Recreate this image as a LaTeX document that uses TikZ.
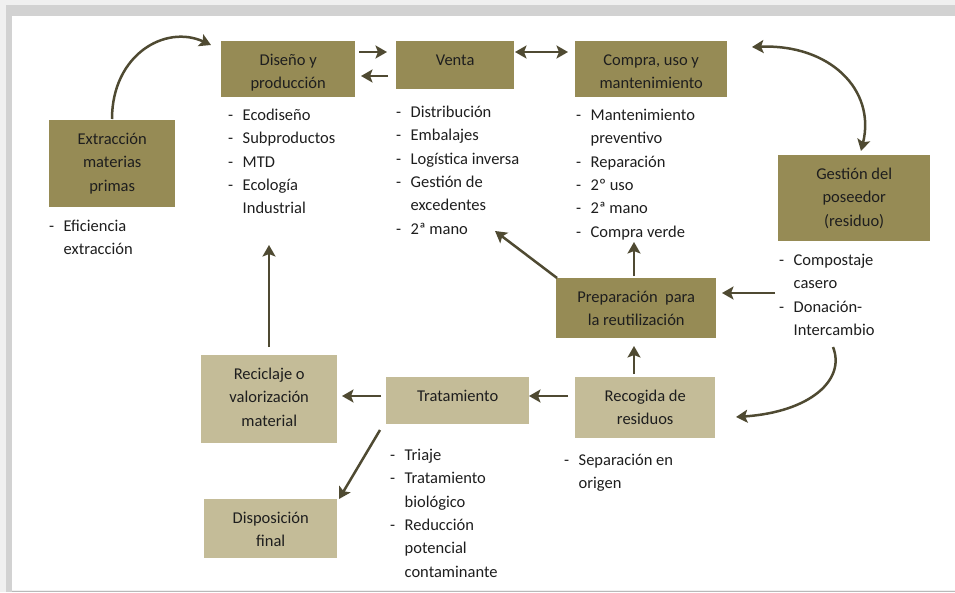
\documentclass[tikz,border=0pt]{standalone}
\usepackage{fontspec}
\setmainfont{Carlito}
\usetikzlibrary{arrows.meta,calc}
\definecolor{darkbox}{HTML}{968B55}
\definecolor{lightbox}{HTML}{C4BC98}
\definecolor{arrowc}{HTML}{4F4A32}
\definecolor{txt}{HTML}{1E1E1E}
\newcommand{\bx}[1]{\begin{tabular}{@{}c@{}}#1\end{tabular}}
\newcommand{\lst}[1]{\begin{tabular}{@{}l@{}}#1\end{tabular}}
\newcommand{\li}[1]{\makebox[14.5pt][l]{-}#1}
\newcommand{\lc}[1]{\hspace*{14.5pt}#1}
\tikzset{
  dbox/.style={fill=darkbox, draw=none, inner sep=0pt, anchor=north west},
  lbox/.style={fill=lightbox, draw=none, inner sep=0pt, anchor=north west},
  btxt/.style={inner sep=0pt, anchor=north, text=txt, font=\fontsize{16.5}{23.3}\selectfont},
  ltxt/.style={inner sep=0pt, anchor=north west, text=txt, font=\fontsize{16.5}{23.3}\selectfont},
  arr/.style={draw=arrowc, line width=2.5pt, -{Stealth[length=11.5pt,width=13pt,inset=2.5pt]}},
  darr/.style={draw=arrowc, line width=2.5pt, {Stealth[length=11.5pt,width=13pt,inset=2.5pt]}-{Stealth[length=11.5pt,width=13pt,inset=2.5pt]}}
}
\begin{document}
\begin{tikzpicture}[x=1pt,y=-1pt]
\useasboundingbox (0,0) rectangle (955,592);
% frame
\fill[gray!12] (0,0) rectangle (955,592);
\fill[gray!35] (6,5) rectangle (955,16);
\fill[gray!35] (6,5) rectangle (12,592);
\fill[white] (12,16) rectangle (955,590);
\draw[gray!55, line width=1pt] (12,591) -- (955,591);

% boxes
\node[dbox, minimum width=134pt, minimum height=56pt] (dise) at (221,41) {};
\node[btxt] (dise-t) at ([yshift=-8pt]dise.north) {\bx{Diseño y\\producción}};
\node[dbox, minimum width=118pt, minimum height=48pt] (venta) at (396,41) {};
\node[btxt] (venta-t) at ([yshift=-8pt]venta.north) {\bx{Venta}};
\node[dbox, minimum width=152pt, minimum height=56pt] (compra) at (575,41) {};
\node[btxt] (compra-t) at ([yshift=-8pt]compra.north) {\bx{Compra, uso y\\mantenimiento}};
\node[dbox, minimum width=126pt, minimum height=87pt] (extr) at (49,120) {};
\node[btxt] (extr-t) at ([yshift=-8pt]extr.north) {\bx{Extracción\\materias\\primas}};
\node[dbox, minimum width=152pt, minimum height=86pt] (gest) at (778,155) {};
\node[btxt] (gest-t) at ([yshift=-8pt]gest.north) {\bx{Gestión del\\poseedor\\(residuo)}};
\node[dbox, minimum width=160pt, minimum height=60pt] (prep) at (556,278) {};
\node[btxt] (prep-t) at ([yshift=-8pt]prep.north) {\bx{Preparación\ \ para\\la reutilización}};
\node[lbox, minimum width=140pt, minimum height=61pt] (recog) at (575,377) {};
\node[btxt] (recog-t) at ([yshift=-8pt]recog.north) {\bx{Recogida de\\residuos}};
\node[lbox, minimum width=143pt, minimum height=47pt] (trat) at (386,377) {};
\node[btxt] (trat-t) at ([yshift=-8pt]trat.north) {\bx{Tratamiento}};
\node[lbox, minimum width=136pt, minimum height=88pt] (recic) at (201,355) {};
\node[btxt] (recic-t) at ([yshift=-8pt]recic.north) {\bx{Reciclaje o\\valorización\\material}};
\node[lbox, minimum width=133pt, minimum height=59pt] (disp) at (204,499) {};
\node[btxt] (disp-t) at ([yshift=-8pt]disp.north) {\bx{Disposición\\final}};

% lists
\node[ltxt] (dise-l) at (228,104) {\lst{\li{Ecodiseño}\\\li{Subproductos}\\\li{MTD}\\\li{Ecología}\\\lc{Industrial}}};
\node[ltxt] (venta-l) at (396,101) {\lst{\li{Distribución}\\\li{Embalajes}\\\li{Logística inversa}\\\li{Gestión de}\\\lc{excedentes}\\\li{2ª mano}}};
\node[ltxt] (compra-l) at (576,104) {\lst{\li{Mantenimiento}\\\lc{preventivo}\\\li{Reparación}\\\li{2º uso}\\\li{2ª mano}\\\li{Compra verde}}};
\node[ltxt] (extr-l) at (49,215) {\lst{\li{Eficiencia}\\\lc{extracción}}};
\node[ltxt] (gest-l) at (779,249) {\lst{\li{Compostaje}\\\lc{casero}\\\li{Donación-}\\\lc{Intercambio}}};
\node[ltxt] (trat-l) at (390,444) {\lst{\li{Triaje}\\\li{Tratamiento}\\\lc{biológico}\\\li{Reducción}\\\lc{potencial}\\\lc{contaminante}}};
\node[ltxt] (recog-l) at (564,449) {\lst{\li{Separación en}\\\lc{origen}}};

% arrow end points
\coordinate (a1s) at (112,119);
\coordinate (a1e) at (211,45);
\coordinate (a2s) at (359,52);
\coordinate (a2e) at (387,52);
\coordinate (a3s) at (388,76);
\coordinate (a3e) at (361,76);
\coordinate (a4s) at (515,52);
\coordinate (a4e) at (568,52);
\coordinate (a5s) at (752,47);
\coordinate (a5e) at (861,151);
\coordinate (a6s) at (557,278);
\coordinate (a6e) at (495,231);
\coordinate (a7s) at (634,276);
\coordinate (a7e) at (634,242);
\coordinate (a8s) at (775,293);
\coordinate (a8e) at (722,293);
\coordinate (a9s) at (833,347);
\coordinate (a9e) at (736,417);
\coordinate (a10s) at (634,374);
\coordinate (a10e) at (634,346);
\coordinate (a11s) at (568,396);
\coordinate (a11e) at (529,396);
\coordinate (a12s) at (381,396);
\coordinate (a12e) at (342,396);
\coordinate (a13s) at (380,430);
\coordinate (a13e) at (339,499);
\coordinate (a14s) at (269,347);
\coordinate (a14e) at (269,245);

\draw[arr] (a1s) .. controls (112,55) and (165,24) .. (a1e);
\draw[arr] (a2s) -- (a2e);
\draw[arr] (a3s) -- (a3e);
\draw[darr] (a4s) -- (a4e);
\draw[darr] (a5s) .. controls (830,44) and (876,90) .. (a5e);
\draw[arr] (a6s) -- (a6e);
\draw[arr] (a7s) -- (a7e);
\draw[arr] (a8s) -- (a8e);
\draw[arr] (a9s) .. controls (846,380) and (810,412) .. (a9e);
\draw[arr] (a10s) -- (a10e);
\draw[arr] (a11s) -- (a11e);
\draw[arr] (a12s) -- (a12e);
\draw[arr] (a13s) -- (a13e);
\draw[arr] (a14s) -- (a14e);
\end{tikzpicture}
\end{document}
